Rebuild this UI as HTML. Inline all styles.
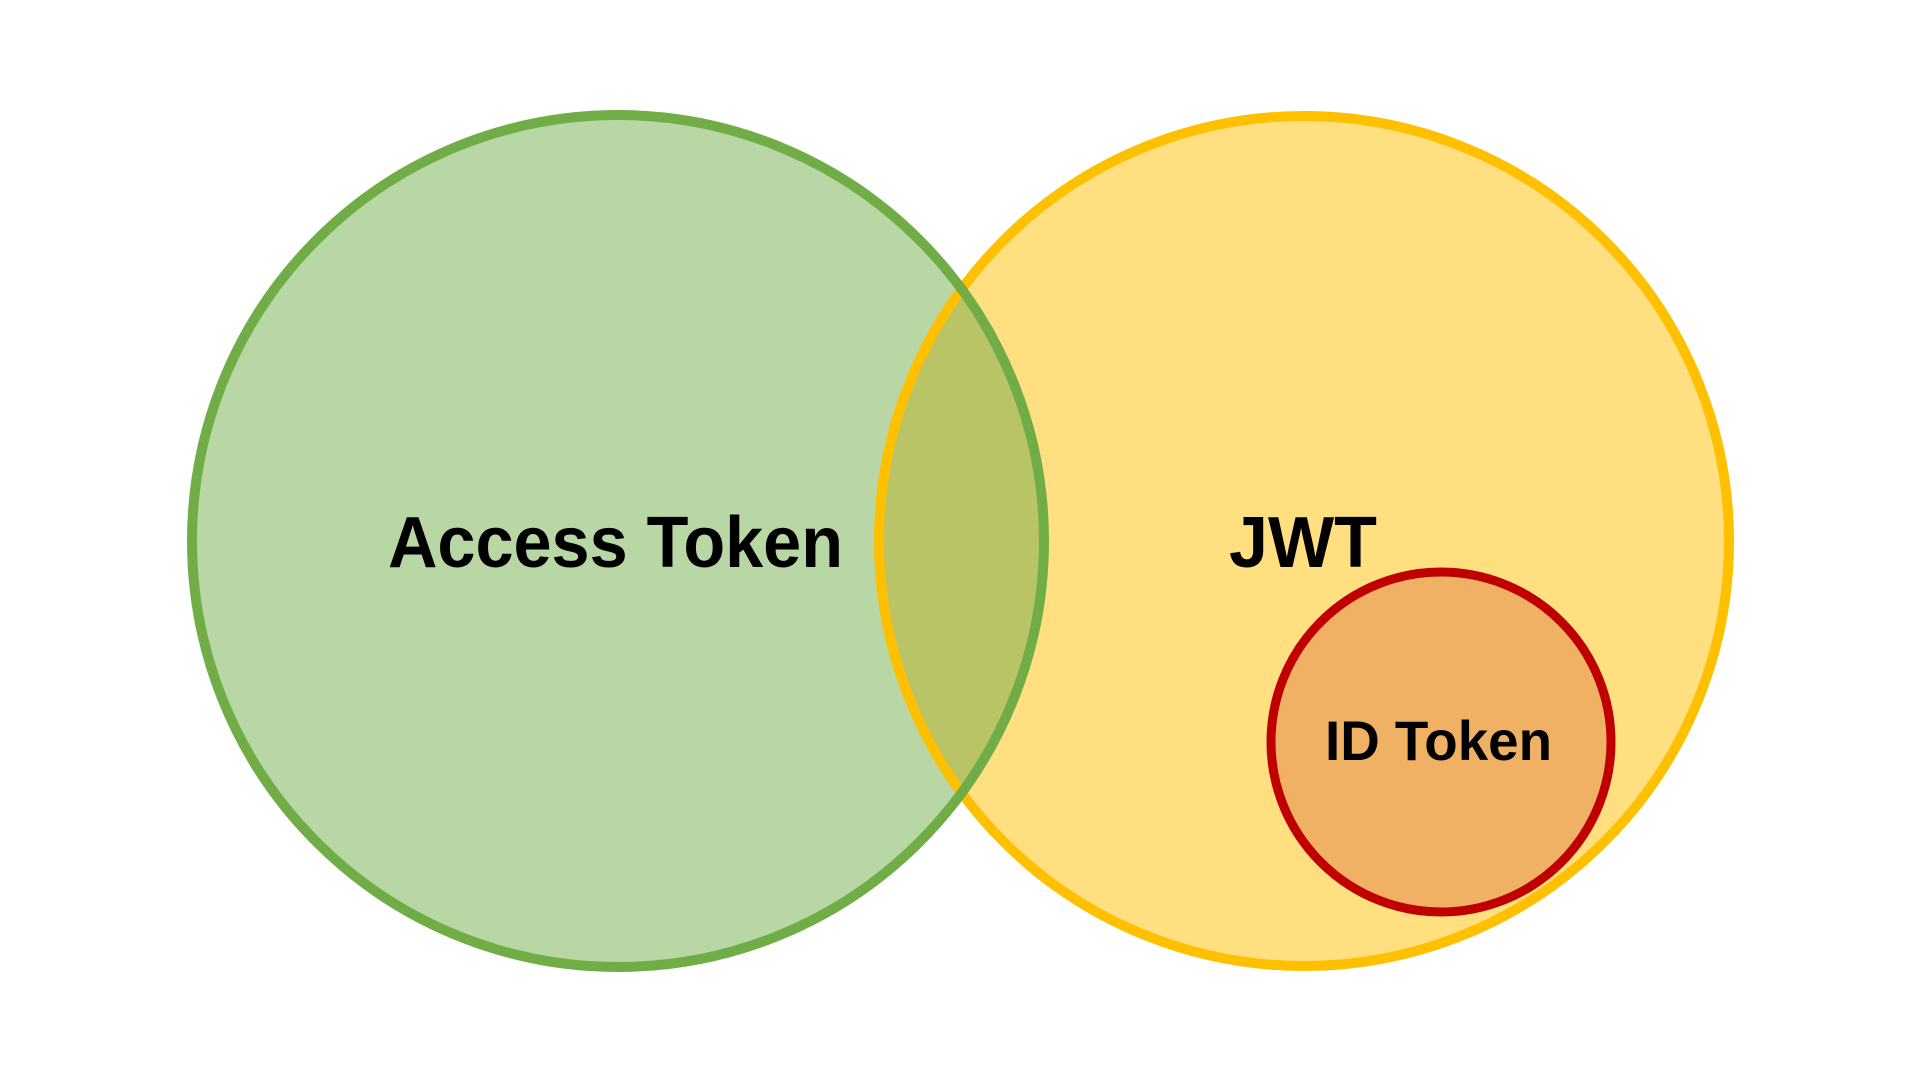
<!DOCTYPE html>
<html><head><meta charset="utf-8"><style>html,body{margin:0;padding:0;background:#fff}svg{display:block}</style></head>
<body>
<svg width="1920" height="1080" viewBox="0 0 1920 1080" xmlns="http://www.w3.org/2000/svg">
<defs>
<clipPath id="g"><circle cx="618" cy="541" r="426"/></clipPath>
</defs>
<circle cx="1304" cy="541" r="425" fill="#ffdf80"/>
<circle cx="618" cy="541" r="426" fill="#b9d7a5"/>
<circle cx="1304" cy="541" r="425" fill="#b8c466" clip-path="url(#g)"/>
<circle cx="1304" cy="541" r="425" fill="none" stroke="#ffc000" stroke-width="10"/>
<circle cx="618" cy="541" r="426" fill="none" stroke="#70ad47" stroke-width="10"/>
<circle cx="1441" cy="742" r="170" fill="#f1b165" stroke="#c00000" stroke-width="9"/>
<g font-family="Liberation Sans, sans-serif" font-weight="bold" fill="#000">
<text x="388" y="567" font-size="72" textLength="455" lengthAdjust="spacingAndGlyphs">Access Token</text>
<text x="1229" y="567" font-size="72" textLength="148" lengthAdjust="spacingAndGlyphs">JWT</text>
<text x="1325" y="760" font-size="56" textLength="227" lengthAdjust="spacingAndGlyphs">ID Token</text>
</g>
</svg>
</body></html>
